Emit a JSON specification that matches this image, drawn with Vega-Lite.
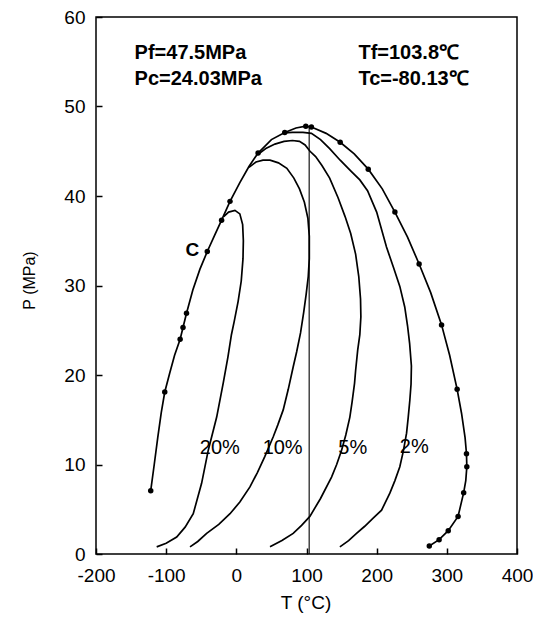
{
  "$schema": "https://vega.github.io/schema/vega-lite/v6.json",
  "width": 421,
  "height": 537,
  "autosize": {"type": "none"},
  "padding": {"left": 96, "top": 17, "right": 16, "bottom": 76},
  "background": "white",
  "config": {
    "view": {"stroke": "black", "strokeWidth": 1.5},
    "font": "Liberation Sans",
    "axis": {"grid": false, "domain": false, "tickColor": "black", "tickSize": 6, "offset": -6, "tickWidth": 1.5, "labelColor": "black", "labelFontSize": 19, "labelFlush": false, "titleColor": "black", "titleFontWeight": "normal"}
  },
  "datasets": {
    "curves": [
      {"series": "env", "order": 1, "T": -122, "P": 7.07, "dot": true},
      {"series": "env", "order": 2, "T": -117, "P": 10, "dot": false},
      {"series": "env", "order": 3, "T": -112, "P": 13, "dot": false},
      {"series": "env", "order": 4, "T": -107, "P": 15.8, "dot": false},
      {"series": "env", "order": 5, "T": -102, "P": 18.1, "dot": true},
      {"series": "env", "order": 6, "T": -95, "P": 20.2, "dot": false},
      {"series": "env", "order": 7, "T": -88, "P": 22.2, "dot": false},
      {"series": "env", "order": 8, "T": -80.1, "P": 24.0, "dot": true},
      {"series": "env", "order": 9, "T": -76, "P": 25.3, "dot": true},
      {"series": "env", "order": 10, "T": -71, "P": 26.9, "dot": true},
      {"series": "env", "order": 11, "T": -62, "P": 29.5, "dot": false},
      {"series": "env", "order": 12, "T": -52, "P": 31.8, "dot": false},
      {"series": "env", "order": 13, "T": -41.4, "P": 33.8, "dot": true},
      {"series": "env", "order": 14, "T": -31, "P": 35.6, "dot": false},
      {"series": "env", "order": 15, "T": -21, "P": 37.3, "dot": true},
      {"series": "env", "order": 16, "T": -9, "P": 39.4, "dot": true},
      {"series": "env", "order": 17, "T": 5, "P": 41.5, "dot": false},
      {"series": "env", "order": 18, "T": 18, "P": 43.3, "dot": false},
      {"series": "env", "order": 19, "T": 31, "P": 44.8, "dot": true},
      {"series": "env", "order": 20, "T": 50, "P": 46.3, "dot": false},
      {"series": "env", "order": 21, "T": 69, "P": 47.1, "dot": true},
      {"series": "env", "order": 22, "T": 85, "P": 47.6, "dot": false},
      {"series": "env", "order": 23, "T": 99, "P": 47.8, "dot": true},
      {"series": "env", "order": 24, "T": 107, "P": 47.7, "dot": true},
      {"series": "env", "order": 25, "T": 128, "P": 47.0, "dot": false},
      {"series": "env", "order": 26, "T": 148, "P": 46.0, "dot": true},
      {"series": "env", "order": 27, "T": 168, "P": 44.7, "dot": false},
      {"series": "env", "order": 28, "T": 188, "P": 43.0, "dot": true},
      {"series": "env", "order": 29, "T": 208, "P": 40.8, "dot": false},
      {"series": "env", "order": 30, "T": 226, "P": 38.2, "dot": true},
      {"series": "env", "order": 31, "T": 244, "P": 35.4, "dot": false},
      {"series": "env", "order": 32, "T": 260.5, "P": 32.4, "dot": true},
      {"series": "env", "order": 33, "T": 277, "P": 29.2, "dot": false},
      {"series": "env", "order": 34, "T": 292.5, "P": 25.6, "dot": true},
      {"series": "env", "order": 35, "T": 304, "P": 22.2, "dot": false},
      {"series": "env", "order": 36, "T": 314.7, "P": 18.4, "dot": true},
      {"series": "env", "order": 37, "T": 321, "P": 15.7, "dot": false},
      {"series": "env", "order": 38, "T": 326, "P": 13, "dot": false},
      {"series": "env", "order": 39, "T": 328, "P": 11.2, "dot": true},
      {"series": "env", "order": 40, "T": 328.5, "P": 9.75, "dot": true},
      {"series": "env", "order": 41, "T": 327, "P": 8.2, "dot": false},
      {"series": "env", "order": 42, "T": 324, "P": 6.85, "dot": true},
      {"series": "env", "order": 43, "T": 316, "P": 4.2, "dot": true},
      {"series": "env", "order": 44, "T": 302, "P": 2.6, "dot": true},
      {"series": "env", "order": 45, "T": 289, "P": 1.6, "dot": true},
      {"series": "env", "order": 46, "T": 275, "P": 0.9, "dot": true},

      {"series": "c20", "order": 1, "T": -18, "P": 37.7, "dot": false},
      {"series": "c20", "order": 2, "T": -11, "P": 38.2, "dot": false},
      {"series": "c20", "order": 3, "T": -2, "P": 38.4, "dot": false},
      {"series": "c20", "order": 4, "T": 5, "P": 38.0, "dot": false},
      {"series": "c20", "order": 5, "T": 9, "P": 36.8, "dot": false},
      {"series": "c20", "order": 6, "T": 10, "P": 35, "dot": false},
      {"series": "c20", "order": 7, "T": 9.5, "P": 33, "dot": false},
      {"series": "c20", "order": 8, "T": 7, "P": 30.5, "dot": false},
      {"series": "c20", "order": 9, "T": 2.5, "P": 28.2, "dot": false},
      {"series": "c20", "order": 10, "T": -3, "P": 26, "dot": false},
      {"series": "c20", "order": 11, "T": -7, "P": 24.5, "dot": false},
      {"series": "c20", "order": 12, "T": -12, "P": 22, "dot": false},
      {"series": "c20", "order": 13, "T": -18.7, "P": 19.1, "dot": false},
      {"series": "c20", "order": 14, "T": -28, "P": 15.3, "dot": false},
      {"series": "c20", "order": 15, "T": -40, "P": 11.6, "dot": false},
      {"series": "c20", "order": 16, "T": -49.5, "P": 7.9, "dot": false},
      {"series": "c20", "order": 17, "T": -61.4, "P": 4.5, "dot": false},
      {"series": "c20", "order": 18, "T": -73, "P": 3, "dot": false},
      {"series": "c20", "order": 19, "T": -85, "P": 1.9, "dot": false},
      {"series": "c20", "order": 20, "T": -100, "P": 1.2, "dot": false},
      {"series": "c20", "order": 21, "T": -113.5, "P": 0.8, "dot": false},

      {"series": "c10", "order": 1, "T": 18, "P": 43.2, "dot": false},
      {"series": "c10", "order": 2, "T": 28, "P": 43.8, "dot": false},
      {"series": "c10", "order": 3, "T": 38, "P": 44.0, "dot": false},
      {"series": "c10", "order": 4, "T": 48, "P": 44.0, "dot": false},
      {"series": "c10", "order": 5, "T": 60, "P": 43.7, "dot": false},
      {"series": "c10", "order": 6, "T": 72, "P": 43.1, "dot": false},
      {"series": "c10", "order": 7, "T": 82, "P": 42.0, "dot": false},
      {"series": "c10", "order": 8, "T": 90, "P": 40.8, "dot": false},
      {"series": "c10", "order": 9, "T": 97, "P": 39.3, "dot": false},
      {"series": "c10", "order": 10, "T": 102, "P": 37.5, "dot": false},
      {"series": "c10", "order": 11, "T": 104, "P": 35.5, "dot": false},
      {"series": "c10", "order": 12, "T": 104, "P": 33, "dot": false},
      {"series": "c10", "order": 13, "T": 102.5, "P": 31, "dot": false},
      {"series": "c10", "order": 14, "T": 99.5, "P": 29, "dot": false},
      {"series": "c10", "order": 15, "T": 96, "P": 27, "dot": false},
      {"series": "c10", "order": 16, "T": 91.5, "P": 24.7, "dot": false},
      {"series": "c10", "order": 17, "T": 86, "P": 22.6, "dot": false},
      {"series": "c10", "order": 18, "T": 81, "P": 20.9, "dot": false},
      {"series": "c10", "order": 19, "T": 74, "P": 18.4, "dot": false},
      {"series": "c10", "order": 20, "T": 66.8, "P": 16.1, "dot": false},
      {"series": "c10", "order": 21, "T": 59, "P": 14.4, "dot": false},
      {"series": "c10", "order": 22, "T": 52.6, "P": 13.1, "dot": false},
      {"series": "c10", "order": 23, "T": 40.7, "P": 10.9, "dot": false},
      {"series": "c10", "order": 24, "T": 30, "P": 9.1, "dot": false},
      {"series": "c10", "order": 25, "T": 19.4, "P": 7.5, "dot": false},
      {"series": "c10", "order": 26, "T": 5, "P": 5.8, "dot": false},
      {"series": "c10", "order": 27, "T": -9, "P": 4.5, "dot": false},
      {"series": "c10", "order": 28, "T": -25, "P": 3.3, "dot": false},
      {"series": "c10", "order": 29, "T": -42.3, "P": 2.3, "dot": false},
      {"series": "c10", "order": 30, "T": -55, "P": 1.4, "dot": false},
      {"series": "c10", "order": 31, "T": -66, "P": 0.8, "dot": false},

      {"series": "c5", "order": 1, "T": 30, "P": 44.6, "dot": false},
      {"series": "c5", "order": 2, "T": 42, "P": 45.3, "dot": false},
      {"series": "c5", "order": 3, "T": 55, "P": 45.8, "dot": false},
      {"series": "c5", "order": 4, "T": 68, "P": 46.1, "dot": false},
      {"series": "c5", "order": 5, "T": 80, "P": 46.2, "dot": false},
      {"series": "c5", "order": 6, "T": 90, "P": 46.1, "dot": false},
      {"series": "c5", "order": 7, "T": 98, "P": 45.7, "dot": false},
      {"series": "c5", "order": 8, "T": 105, "P": 45.0, "dot": false},
      {"series": "c5", "order": 9, "T": 113, "P": 44.4, "dot": false},
      {"series": "c5", "order": 10, "T": 122, "P": 43.4, "dot": false},
      {"series": "c5", "order": 11, "T": 133, "P": 42.0, "dot": false},
      {"series": "c5", "order": 12, "T": 145, "P": 39.8, "dot": false},
      {"series": "c5", "order": 13, "T": 155, "P": 37.7, "dot": false},
      {"series": "c5", "order": 14, "T": 163, "P": 35.8, "dot": false},
      {"series": "c5", "order": 15, "T": 170, "P": 33.5, "dot": false},
      {"series": "c5", "order": 16, "T": 174.5, "P": 31, "dot": false},
      {"series": "c5", "order": 17, "T": 177, "P": 28.5, "dot": false},
      {"series": "c5", "order": 18, "T": 177.5, "P": 26.5, "dot": false},
      {"series": "c5", "order": 19, "T": 176, "P": 24.5, "dot": false},
      {"series": "c5", "order": 20, "T": 173, "P": 22.8, "dot": false},
      {"series": "c5", "order": 21, "T": 170, "P": 20.5, "dot": false},
      {"series": "c5", "order": 22, "T": 168.5, "P": 19.1, "dot": false},
      {"series": "c5", "order": 23, "T": 165, "P": 17, "dot": false},
      {"series": "c5", "order": 24, "T": 161.8, "P": 15.3, "dot": false},
      {"series": "c5", "order": 25, "T": 156, "P": 13.3, "dot": false},
      {"series": "c5", "order": 26, "T": 150, "P": 11.6, "dot": false},
      {"series": "c5", "order": 27, "T": 143, "P": 10, "dot": false},
      {"series": "c5", "order": 28, "T": 135.7, "P": 8.6, "dot": false},
      {"series": "c5", "order": 29, "T": 120, "P": 6.2, "dot": false},
      {"series": "c5", "order": 30, "T": 104.8, "P": 4.2, "dot": false},
      {"series": "c5", "order": 31, "T": 93, "P": 3.2, "dot": false},
      {"series": "c5", "order": 32, "T": 81, "P": 2.3, "dot": false},
      {"series": "c5", "order": 33, "T": 65, "P": 1.5, "dot": false},
      {"series": "c5", "order": 34, "T": 48, "P": 0.8, "dot": false},

      {"series": "c2", "order": 1, "T": 68, "P": 47.05, "dot": false},
      {"series": "c2", "order": 2, "T": 80, "P": 47.1, "dot": false},
      {"series": "c2", "order": 3, "T": 95, "P": 47.1, "dot": false},
      {"series": "c2", "order": 4, "T": 107, "P": 47.0, "dot": false},
      {"series": "c2", "order": 5, "T": 120, "P": 46.3, "dot": false},
      {"series": "c2", "order": 6, "T": 133, "P": 45.3, "dot": false},
      {"series": "c2", "order": 7, "T": 148, "P": 44.0, "dot": false},
      {"series": "c2", "order": 8, "T": 163, "P": 42.8, "dot": false},
      {"series": "c2", "order": 9, "T": 176, "P": 41.8, "dot": false},
      {"series": "c2", "order": 10, "T": 187, "P": 40.6, "dot": false},
      {"series": "c2", "order": 11, "T": 200, "P": 38.2, "dot": false},
      {"series": "c2", "order": 12, "T": 214, "P": 34.3, "dot": false},
      {"series": "c2", "order": 13, "T": 224, "P": 32.0, "dot": false},
      {"series": "c2", "order": 14, "T": 233, "P": 29.9, "dot": false},
      {"series": "c2", "order": 15, "T": 240, "P": 27.6, "dot": false},
      {"series": "c2", "order": 16, "T": 244, "P": 25.5, "dot": false},
      {"series": "c2", "order": 17, "T": 247, "P": 23.5, "dot": false},
      {"series": "c2", "order": 18, "T": 249.5, "P": 21, "dot": false},
      {"series": "c2", "order": 19, "T": 249, "P": 19, "dot": false},
      {"series": "c2", "order": 20, "T": 247.3, "P": 17.2, "dot": false},
      {"series": "c2", "order": 21, "T": 245, "P": 15.3, "dot": false},
      {"series": "c2", "order": 22, "T": 242.6, "P": 13.5, "dot": false},
      {"series": "c2", "order": 23, "T": 238, "P": 11.5, "dot": false},
      {"series": "c2", "order": 24, "T": 233, "P": 9.75, "dot": false},
      {"series": "c2", "order": 25, "T": 226, "P": 8.2, "dot": false},
      {"series": "c2", "order": 26, "T": 218.8, "P": 6.8, "dot": false},
      {"series": "c2", "order": 27, "T": 207, "P": 4.9, "dot": false},
      {"series": "c2", "order": 28, "T": 195, "P": 4.0, "dot": false},
      {"series": "c2", "order": 29, "T": 183, "P": 3.1, "dot": false},
      {"series": "c2", "order": 30, "T": 171.3, "P": 2.3, "dot": false},
      {"series": "c2", "order": 31, "T": 160, "P": 1.5, "dot": false},
      {"series": "c2", "order": 32, "T": 147.6, "P": 0.8, "dot": false}
    ],
    "tfline": [
      {"T": 103.8, "P": 0, "order": 1},
      {"T": 103.8, "P": 47.75, "order": 2}
    ],
    "labels": [
      {"grp": "head", "text": "Pf=47.5MPa", "T": -145, "P": 56.0},
      {"grp": "head", "text": "Pc=24.03MPa", "T": -145, "P": 53.1},
      {"grp": "head", "text": "Tf=103.8℃", "T": 174, "P": 56.0},
      {"grp": "head", "text": "Tc=-80.13℃", "T": 174, "P": 53.1},
      {"grp": "c", "text": "C", "T": -62.5, "P": 34.0},
      {"grp": "pct", "text": "20%", "T": -23.5, "P": 11.8},
      {"grp": "pct", "text": "10%", "T": 66, "P": 11.8},
      {"grp": "pct", "text": "5%", "T": 166, "P": 11.8},
      {"grp": "pct", "text": "2%", "T": 253.5, "P": 12.0}
    ]
  },
  "encoding": {
    "x": {
      "field": "T", "type": "quantitative",
      "scale": {"domain": [-200, 400], "nice": false, "zero": false},
      "axis": {"values": [-200, -100, 0, 100, 200, 300, 400], "labelPadding": 12, "labelExpr": "datum.value < 0 ? '-' + abs(datum.value) : '' + datum.value", "title": "T (°C)", "titleFontSize": 19, "titleX": 209.5, "titleY": 45, "titleBaseline": "top"}
    },
    "y": {
      "field": "P", "type": "quantitative",
      "scale": {"domain": [0, 60], "nice": false, "zero": false},
      "axis": {"values": [0, 10, 20, 30, 40, 50, 60], "labelPadding": 11, "title": "P (MPa)", "titleFontSize": 16, "titleX": -73, "titleY": 263, "titleBaseline": "middle", "titleAlign": "center"}
    }
  },
  "layer": [
    {
      "data": {"name": "curves"},
      "mark": {"type": "line", "color": "black", "strokeWidth": 1.7},
      "encoding": {"detail": {"field": "series"}, "order": {"field": "order", "type": "quantitative"}}
    },
    {
      "data": {"name": "tfline"},
      "mark": {"type": "line", "color": "black", "strokeWidth": 1.1},
      "encoding": {"order": {"field": "order", "type": "quantitative"}}
    },
    {
      "data": {"name": "curves"},
      "transform": [{"filter": "datum.dot"}],
      "mark": {"type": "point", "filled": true, "color": "black", "size": 30, "opacity": 1}
    },
    {
      "data": {"name": "labels"},
      "transform": [{"filter": "datum.grp == 'head'"}],
      "mark": {"type": "text", "align": "left", "baseline": "middle", "fontSize": 20, "fontWeight": "bold", "color": "black"},
      "encoding": {"text": {"field": "text"}}
    },
    {
      "data": {"name": "labels"},
      "transform": [{"filter": "datum.grp == 'c'"}],
      "mark": {"type": "text", "align": "center", "baseline": "middle", "fontSize": 19, "fontWeight": "bold", "color": "black"},
      "encoding": {"text": {"field": "text"}}
    },
    {
      "data": {"name": "labels"},
      "transform": [{"filter": "datum.grp == 'pct'"}],
      "mark": {"type": "text", "align": "center", "baseline": "middle", "fontSize": 20, "color": "black"},
      "encoding": {"text": {"field": "text"}}
    }
  ]
}
